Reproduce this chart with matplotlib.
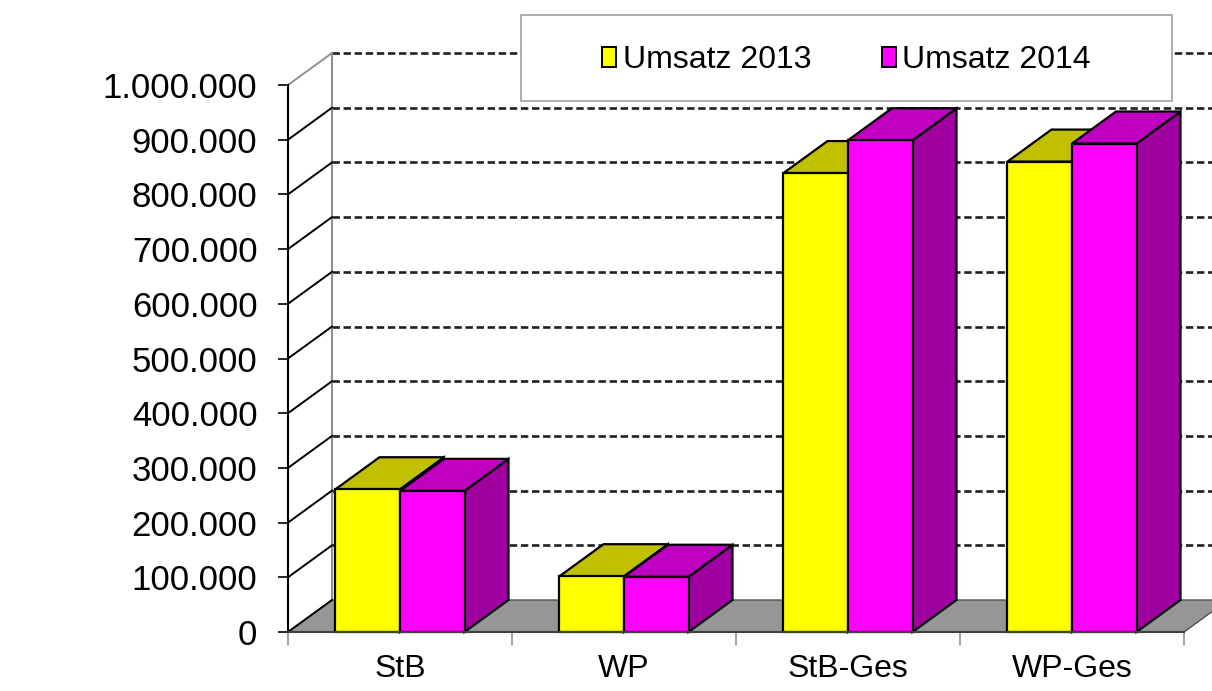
import matplotlib
matplotlib.use("Agg")
import matplotlib.pyplot as plt
from matplotlib.patches import Polygon, Rectangle, Patch
from matplotlib.ticker import FuncFormatter
import numpy as np

# data
categories = ["StB", "WP", "StB-Ges", "WP-Ges"]
umsatz_2013 = [261000, 102000, 839000, 860000]
umsatz_2014 = [258000, 101000, 899000, 893000]
series_names = ["Umsatz 2013", "Umsatz 2014"]
yticks = np.arange(0, 1000001, 100000)

plt.rcParams['font.family'] = ['Liberation Sans', 'DejaVu Sans']

W, H = 1212, 691
fig = plt.figure(figsize=(W / 100, H / 100), dpi=100)
fig.patch.set_facecolor('white')
ax = fig.add_axes([288 / W, (H - 632) / H, (1184 - 288) / W, (632 - 85) / H])
ax.set_xlim(0, len(categories))
ax.set_ylim(0, 1000000)
ax.set_facecolor('none')

# depth of the fake 3d: 44 px right, 32 px up, converted to data units
px_x = (1184 - 288) / len(categories)
px_y = (632 - 85) / 1000000
dx = 44 / px_x
dy = 32 / px_y

# floor
floor = Polygon([(0, 0), (len(categories), 0), (len(categories) + dx, dy), (dx, dy)],
                closed=True, fc='#969696', ec='#505050', lw=1, clip_on=False, zorder=1)
ax.add_patch(floor)

# back wall grid lines (dashed)
for v in yticks[1:]:
    ax.plot([dx, len(categories) + dx + 0.5], [v + dy, v + dy], color='#202020', lw=1.9,
            ls=(0, (2.8, 1.4)), clip_on=False, zorder=2)
# back wall left edge
ax.plot([dx, dx], [dy, 1000000 + dy], color='#909090', lw=1.5, clip_on=False, zorder=2)
# side wall diagonals
for v in yticks:
    c = '#909090' if v == yticks[-1] else 'black'
    ax.plot([0, dx], [v, v + dy], color=c, lw=1.4, clip_on=False, zorder=2)

colors = [
    dict(front='#FFFF00', top='#C0C000', side='#9A9A00'),
    dict(front='#FF00FF', top='#C000C0', side='#A000A0'),
]
bw = 0.288
off = (1 - 2 * bw) / 2


def box(x0, h, col):
    kw = dict(closed=True, ec='black', lw=1.6, clip_on=False, zorder=3, joinstyle='miter')
    side = Polygon([(x0 + bw, 0), (x0 + bw + dx, dy), (x0 + bw + dx, h + dy), (x0 + bw, h)],
                   fc=col['side'], **kw)
    top = Polygon([(x0, h), (x0 + bw, h), (x0 + bw + dx, h + dy), (x0 + dx, h + dy)],
                  fc=col['top'], **kw)
    front = Polygon([(x0, 0), (x0 + bw, 0), (x0 + bw, h), (x0, h)], fc=col['front'], **kw)
    for p in (side, top, front):
        ax.add_patch(p)


for i in range(len(categories)):
    box(i + off, umsatz_2013[i], colors[0])
    box(i + off + bw, umsatz_2014[i], colors[1])

# axes styling
for s in ('top', 'right'):
    ax.spines[s].set_visible(False)
ax.spines['left'].set_color('black')
ax.spines['left'].set_linewidth(1.5)
ax.spines['left'].set_zorder(4)
ax.spines['bottom'].set_color('#404040')
ax.spines['bottom'].set_linewidth(1.5)
ax.spines['bottom'].set_zorder(4)

ax.set_yticks(yticks)
ax.yaxis.set_major_formatter(FuncFormatter(lambda v, p: f"{v:,.0f}".replace(",", ".")))
ax.tick_params(axis='y', direction='out', length=7, width=1.2, color='black',
               labelsize=25, pad=15)

ax.set_xticks(np.arange(len(categories)) + 0.5)
ax.set_xticklabels(categories)
ax.set_xticks(np.arange(len(categories) + 1), minor=True)
ax.tick_params(axis='x', which='major', length=0, labelsize=23, pad=16)
ax.tick_params(axis='x', which='minor', direction='out', length=9, width=1.2, color='#909090')

# legend box
frame = Rectangle((521 / W, 1 - 101 / H), 651 / W, 86 / H, transform=fig.transFigure,
                  fc='white', ec='#A0A0A0', lw=1.2, zorder=5)
fig.patches.append(frame)
handles = [Patch(fc=colors[k]['front'], ec='black', lw=1.4, label=series_names[k]) for k in range(2)]
leg = fig.legend(handles=handles, frameon=False, loc='center',
                 bbox_to_anchor=((521 + 651 / 2) / W, 1 - 60 / H), ncol=2, fontsize=23,
                 handlelength=0.45, handleheight=0.6, handletextpad=0.2, columnspacing=2.2)
leg.set_zorder(6)

fig.savefig("out.png", dpi=100)
